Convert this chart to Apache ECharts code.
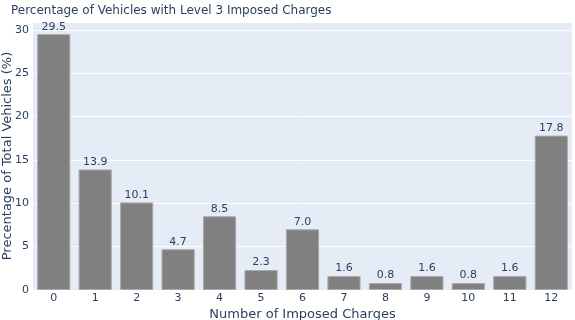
<!DOCTYPE html>
<html>
<head>
<meta charset="utf-8">
<script src="https://cdn.jsdelivr.net/npm/echarts@6/dist/echarts.min.js"></script>
<style>
  html, body { margin: 0; padding: 0; background: #fff; }
  #chart { width: 575px; height: 320px; }
</style>
</head>
<body>
<div id="chart"></div>
<script>
// number of imposed charges
const categories = ['0', '1', '2', '3', '4', '5', '6', '7', '8', '9', '10', '11', '12']
// percentage of total vehicles
const percentages = [29.5, 13.9, 10.1, 4.7, 8.5, 2.3, 7.0, 1.6, 0.8, 1.6, 0.8, 1.6, 17.8]

const textColor = '#2a3f5f'
const font = 'DejaVu Sans'

const chart = echarts.init(document.getElementById('chart'))
chart.setOption({
  animation: false,
  textStyle: { fontFamily: font },
  title: {
    text: 'Percentage of Vehicles with Level 3 Imposed Charges',
    left: 6,
    top: 0,
    textStyle: { fontFamily: font, fontSize: 12, fontWeight: 'normal', color: textColor },
  },
  grid: {
    left: 33,
    right: 3,
    top: 22,
    bottom: 30,
    outerBoundsMode: 'none',
    show: true,
    backgroundColor: '#E5ECF6',
    borderWidth: 0,
  },
  xAxis: {
    type: 'category',
    data: categories,
    name: 'Number of Imposed Charges',
    nameLocation: 'middle',
    nameGap: 18,
    nameMoveOverlap: false,
    nameTextStyle: { fontSize: 13, color: textColor, verticalAlign: 'top' },
    axisLine: { show: false },
    axisTick: { show: false },
    axisLabel: { fontSize: 11, color: textColor, margin: 3 },
  },
  yAxis: {
    type: 'value',
    min: 0,
    max: 30.9,
    interval: 5,
    name: 'Precentage of Total Vehicles (%)',
    nameLocation: 'middle',
    nameGap: 19,
    nameMoveOverlap: false,
    nameTextStyle: { fontSize: 13, color: textColor },
    axisLine: { show: false },
    axisTick: { show: false },
    axisLabel: {
      fontSize: 11,
      color: textColor,
      margin: 4,
      showMaxLabel: false,
    },
    splitLine: { lineStyle: { color: '#fff', width: 1 } },
  },
  series: [
    {
      type: 'bar',
      data: percentages,
      barCategoryGap: '20%',
      itemStyle: { color: '#808080', borderColor: '#a9a9a9', borderWidth: 1 },
      label: {
        show: true,
        position: 'top',
        distance: 2,
        fontSize: 11,
        color: textColor,
        formatter: (p) => p.value.toFixed(1),
      },
    },
  ],
})
</script>
</body>
</html>
